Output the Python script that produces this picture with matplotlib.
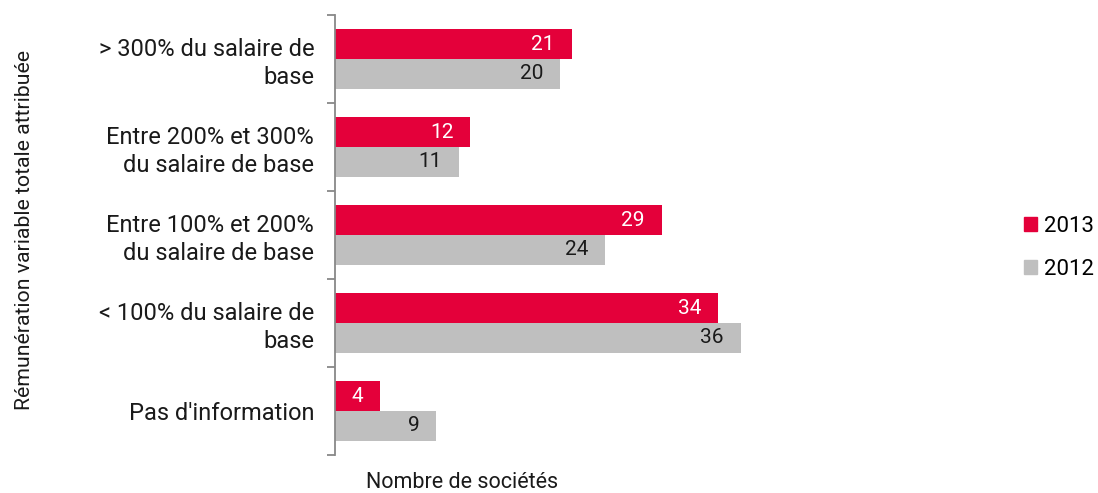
import numpy as np
import matplotlib
matplotlib.use("Agg")
import matplotlib.pyplot as plt
from matplotlib.patches import Patch

plt.rcParams['font.family'] = ['Roboto', 'DejaVu Sans']

categories = ["> 300% du salaire de\nbase",
              "Entre 200% et 300%\ndu salaire de base",
              "Entre 100% et 200%\ndu salaire de base",
              "< 100% du salaire de\nbase",
              "Pas d'information"]
vals_2013 = [21, 12, 29, 34, 4]
vals_2012 = [20, 11, 24, 36, 9]
red = '#E4003A'
grey = '#BFBFBF'
txt = '#1a1a1a'

fig = plt.figure(figsize=(10.98, 4.93), dpi=100)
ax = fig.add_axes([335/1098, 38/493, 563.5/1098, 440/493])

y = np.arange(len(categories))
h = 0.34
b1 = ax.barh(y - h/2, vals_2013, height=h, color=red, label='2013')
b2 = ax.barh(y + h/2, vals_2012, height=h, color=grey, label='2012')

for bar, v in zip(b1, vals_2013):
    ax.text(v - 1.5, bar.get_y() + bar.get_height()/2, str(v), ha='right', va='center',
            color='white', fontsize=15)
for bar, v in zip(b2, vals_2012):
    ax.text(v - 1.5, bar.get_y() + bar.get_height()/2, str(v), ha='right', va='center',
            color=txt, fontsize=15)

ax.set_ylim(len(categories) - 0.5, -0.5)
ax.set_xlim(0, 50)
ax.set_yticks(np.arange(-0.5, len(categories), 1.0))
ax.set_yticklabels([])
ax.set_yticks(y, minor=True)
ax.set_yticklabels(categories, minor=True, fontsize=17, color=txt,
                   ha='right', linespacing=1.25)
ax.tick_params(axis='y', which='minor', length=0, pad=15)
ax.tick_params(axis='y', which='major', length=6, width=1.3, color='#888888')
ax.set_xticks([])
for s in ['top', 'right', 'bottom']:
    ax.spines[s].set_visible(False)
ax.spines['left'].set_color('#888888')
ax.spines['left'].set_linewidth(1.3)

fig.text(25/1098, 263/493, "Rémunération variable totale attribuée", rotation=90,
         ha='center', va='center', fontsize=15.3, color=txt)
fig.text(462/1098, 10/493, "Nombre de sociétés", ha='center', va='center',
         fontsize=15.5, color=txt)

handles = [Patch(color=red, label='2013'), Patch(color=grey, label='2012')]
fig.legend(handles=handles, loc='center left', bbox_to_anchor=(1024/1098, 245/493),
           frameon=False, handlelength=0.6, handleheight=0.6, borderpad=0,
           borderaxespad=0, handletextpad=0.3, labelspacing=1.0, prop={'size': 16})

fig.savefig('out.png', dpi=100)
